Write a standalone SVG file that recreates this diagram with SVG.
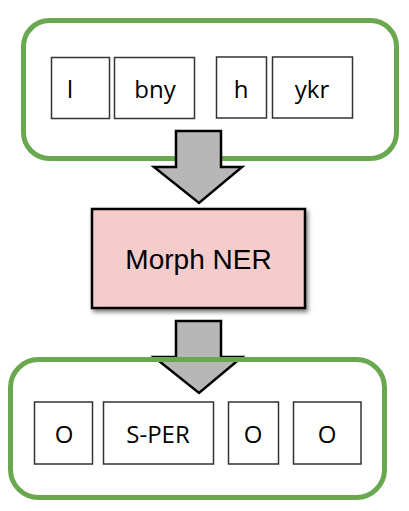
<svg xmlns="http://www.w3.org/2000/svg" width="409" height="511" viewBox="0 0 409 511">
<defs>
<style>
.cont{fill:none;stroke:#6aa84f;stroke-width:5}
.tok{fill:#fff;stroke:#333;stroke-width:1.5}
.tt{font-family:"Open Sans","Liberation Sans",sans-serif;font-size:24px;fill:#000;text-anchor:middle}
.arr{fill:#b7b7b7;stroke:#000;stroke-width:2.5;stroke-linejoin:miter}
</style>
<filter id="sh" x="-10%" y="-10%" width="120%" height="130%">
<feDropShadow dx="2" dy="3" stdDeviation="2" flood-color="#000" flood-opacity="0.5"/>
</filter>
</defs>
<rect width="409" height="511" fill="#fff"/>
<g id="input">
<rect class="cont" x="23.5" y="20.5" width="373" height="138" rx="26"/>
<rect class="tok" x="51.5" y="57.5" width="58" height="61"/>
<text class="tt" x="70" y="98">l</text>
<rect class="tok" x="114.5" y="57.5" width="80" height="61"/>
<text class="tt" x="155" y="98">bny</text>
<rect class="tok" x="216.5" y="57" width="50" height="61"/>
<text class="tt" x="241" y="98">h</text>
<rect class="tok" x="272.5" y="57" width="80" height="61"/>
<text class="tt" x="312" y="98">ykr</text>
</g>
<g id="connectors">
<polygon class="arr" points="176,131 221,131 221,167 242,167 199,203 154,167 176,167"/>
<polygon class="arr" points="176,321 221,321 221,357 242,357 199,393 154,357 176,357"/>
</g>
<g id="morph">
<rect x="92" y="209" width="213" height="99" fill="#f4cccc" stroke="#000" stroke-width="2.5" filter="url(#sh)"/>
<text x="198.5" y="269" font-family="'Liberation Sans',Arial,sans-serif" font-size="28" text-anchor="middle" fill="#000">Morph NER</text>
</g>
<g id="output">
<rect class="cont" x="10.5" y="359.5" width="374" height="138" rx="28"/>
<rect class="tok" x="34.5" y="402" width="58" height="62"/>
<text class="tt" x="64" y="443">O</text>
<rect class="tok" x="103.5" y="402" width="110" height="62"/>
<text class="tt" x="158" y="443">S-PER</text>
<rect class="tok" x="228.5" y="402" width="50" height="62"/>
<text class="tt" x="253" y="443">O</text>
<rect class="tok" x="293.5" y="402" width="67.5" height="62"/>
<text class="tt" x="327" y="443">O</text>
</g>
</svg>
